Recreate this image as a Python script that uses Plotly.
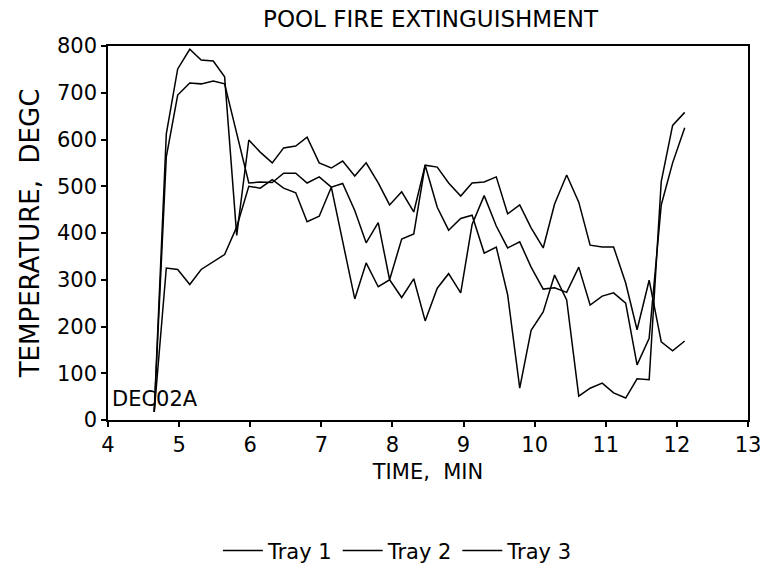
import plotly.graph_objects as go

time_min = [4.65, 4.82, 4.98, 5.15, 5.31, 5.48, 5.64, 5.81, 5.98, 6.14,
            6.31, 6.47, 6.64, 6.80, 6.97, 7.14, 7.30, 7.47, 7.63, 7.80,
            7.96, 8.13, 8.30, 8.46, 8.63, 8.79, 8.96, 9.12, 9.29, 9.46,
            9.62, 9.79, 9.95, 10.12, 10.28, 10.45, 10.62, 10.78, 10.95, 11.11,
            11.28, 11.44, 11.61, 11.78, 11.94, 12.11]

tray1 = [17, 612, 751, 793, 770, 768, 734, 395, 599, 573,
         550, 582, 586, 605, 550, 539, 554, 522, 550, 507,
         460, 488, 445, 545, 541, 507, 479, 507, 509, 520,
         441, 460, 411, 368, 462, 524, 466, 374, 370, 370,
         293, 193, 299, 167, 148, 169]

tray2 = [17, 563, 695, 721, 719, 725, 719, 610, 507, 509,
         508, 528, 528, 507, 520, 498, 506, 448, 379, 422,
         300, 387, 398, 545, 455, 406, 431, 438, 357, 370,
         268, 68, 192, 231, 310, 257, 51, 68, 79, 58,
         47, 88, 86, 510, 630, 658]

tray3 = [17, 325, 322, 290, 322, 339, 354, 413, 500, 496,
         514, 496, 486, 424, 436, 498, 385, 259, 336, 285,
         300, 262, 302, 212, 282, 313, 272, 418, 480, 415,
         368, 381, 327, 280, 283, 273, 327, 246, 265, 272,
         250, 118, 175, 460, 550, 625]

series_names = ["Tray 1", "Tray 2", "Tray 3"]
x_ticks = [4, 5, 6, 7, 8, 9, 10, 11, 12, 13]
y_ticks = [0, 100, 200, 300, 400, 500, 600, 700, 800]

FONT = "DejaVu Sans"

fig = go.Figure()
for name, vals in zip(series_names, [tray1, tray2, tray3]):
    fig.add_trace(go.Scatter(
        x=time_min, y=vals, mode="lines", name=name,
        line=dict(color="black", width=1.5),
    ))

fig.update_layout(
    width=764, height=573,
    margin=dict(l=108, r=16, t=46, b=153, autoexpand=False),
    paper_bgcolor="white", plot_bgcolor="white",
    font=dict(family=FONT, color="black", size=18),
    title=dict(text="POOL FIRE EXTINGUISHMENT", x=0.5635, xanchor="center",
               y=0.967, yanchor="middle", font=dict(size=23, family=FONT)),
    showlegend=True,
    legend=dict(orientation="h", x=0.453, xanchor="center", y=-0.35, yanchor="middle",
                font=dict(size=21, family=FONT), itemwidth=40,
                bgcolor="rgba(0,0,0,0)"),
    annotations=[dict(text="DEC02A", x=4.03, y=45, xref="x", yref="y",
                      xanchor="left", yanchor="middle", showarrow=False,
                      font=dict(size=21, family=FONT))],
)

fig.update_xaxes(
    range=[4, 13], tickvals=x_ticks, ticks="outside", ticklen=5, tickwidth=1.5,
    tickcolor="black", showline=True, linecolor="black", linewidth=1.5,
    mirror=True, showgrid=False, zeroline=False, automargin=False,
    tickfont=dict(size=21, family=FONT),
    title=dict(text="TIME,  MIN", font=dict(size=21, family=FONT), standoff=8),
)
fig.update_yaxes(
    range=[0, 800], tickvals=y_ticks, ticks="outside", ticklen=5, tickwidth=1.5,
    tickcolor="black", showline=True, linecolor="black", linewidth=1.5,
    mirror=True, showgrid=False, zeroline=False, automargin=False,
    tickfont=dict(size=21, family=FONT),
    title=dict(text="TEMPERATURE,  DEGC", font=dict(size=26, family=FONT), standoff=10),
)

fig.write_html("out.html",
               config={"displayModeBar": False},
               post_script="document.body.style.margin='0';document.body.style.overflow='hidden';")
